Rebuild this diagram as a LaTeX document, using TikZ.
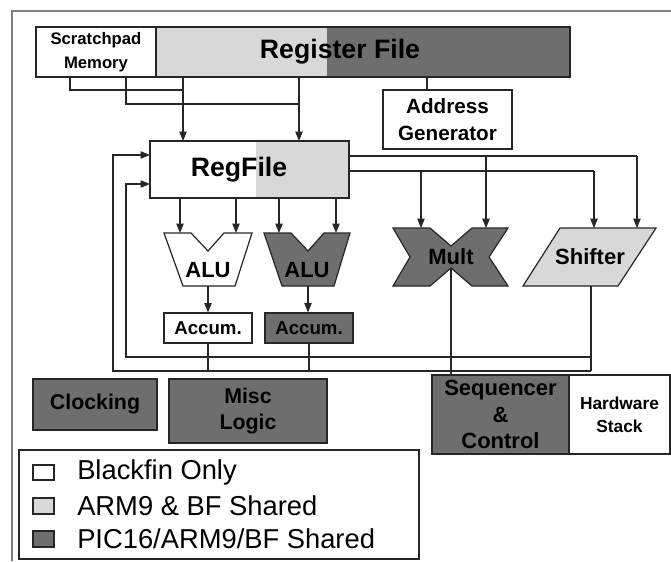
\documentclass[tikz,border=0pt]{standalone}
\usepackage{fontspec}
\setmainfont{Liberation Sans}
\usetikzlibrary{arrows.meta,fit,calc}
\definecolor{darkg}{HTML}{6E6E6E}
\definecolor{lightg}{HTML}{D8D8D8}
\definecolor{framec}{HTML}{808080}
\begin{document}
\begin{tikzpicture}[x=0.75pt,y=-0.75pt,
  box/.style={draw=black!85, line width=0.9pt, inner sep=0pt},
  wire/.style={draw=black!85, line width=0.8pt},
  arr/.style={wire, -{Triangle[length=7pt,width=5.5pt]}},
  shp/.style={draw=black!85, line width=0.9pt},
  bigtxt/.style={font=\bfseries\fontsize{20}{24}\selectfont},
  midtxt/.style={font=\bfseries\fontsize{16}{20}\selectfont, align=center},
  unittxt/.style={font=\bfseries\fontsize{16.5}{20}\selectfont},
  seqtxt/.style={font=\bfseries\fontsize{16.5}{20}\selectfont, align=center},
  smalltxt/.style={font=\bfseries\fontsize{12.5}{18}\selectfont, align=center},
  hwtxt/.style={font=\bfseries\fontsize{13}{17}\selectfont, align=center},
  acctxt/.style={font=\bfseries\fontsize{14}{16}\selectfont},
  agtxt/.style={font=\bfseries\fontsize{15.5}{20}\selectfont, align=center},
  legtxt/.style={font=\fontsize{20.5}{24}\selectfont, anchor=west, inner sep=0pt},
]
\useasboundingbox (0,0) rectangle (671,561);
% frame
\draw[framec, line width=1.5pt] (12,561) -- (12,11) -- (671,11);

% Register file
\fill[lightg] (156,27) rectangle (327,77);
\fill[darkg] (327,27) rectangle (570,77);
\node[box, fit={(36,27)(156,77)}] (scratch) {};
\node[smalltxt] (scratchtxt) at (scratch.center) {Scratchpad\\Memory};
\node[box, fit={(156,27)(570,77)}] (regf) {};
\node[bigtxt] (regftxt) at (340,52) {Register File};

% Address generator
\node[box, fit={(383,90)(512,149)}] (agen) {};
\node[agtxt] (agentxt) at (agen.center) {Address\\Generator};
\coordinate (agin) at (427,90);
\draw[wire] (agin |- regf.south) -- (agin);

% RegFile
\fill[lightg] (256,141) rectangle (349,198);
\node[box, fit={(150,141)(349,198)}] (rf) {};
\node[bigtxt] (rftxt) at (239,170) {RegFile};

% inputs to RegFile
\coordinate (in1) at (183,141);
\coordinate (in2) at (299,141);
\draw[arr] (in1 |- regf.south) -- (in1);
\draw[arr] (in2 |- regf.south) -- (in2);
\coordinate (s1) at (70,77);
\coordinate (s2) at (126,77);
\coordinate (j1) at (183,90);
\coordinate (j2) at (299,104);
\draw[wire] (s1) |- (j1);
\draw[wire] (s2) |- (j2);

% ALUs
\draw[shp, fill=white] (164,233) -- (191,233) -- (208,251) -- (224,233) -- (252,233) -- (235,286) -- (183,286) -- cycle;
\node[unittxt] (alu1) at (208,270) {ALU};
\draw[shp, fill=darkg] (264,233) -- (291,233) -- (308,251) -- (324,233) -- (350,233) -- (334,286) -- (282,286) -- cycle;
\node[unittxt] (alu2) at (307,270) {ALU};
\foreach \x in {180,236,279,336} {
  \draw[arr] (\x,198) -- (\x,233);
}

% Accumulators
\node[box, fit={(164,313)(252,343)}] (acc1) {};
\node[acctxt] (acc1txt) at (acc1.center) {Accum.};
\node[box, fit={(265,313)(353,343)}, fill=darkg] (acc2) {};
\node[acctxt] (acc2txt) at (acc2.center) {Accum.};
\coordinate (a1o) at (208,286);
\coordinate (a2o) at (308,286);
\draw[arr] (a1o) -- (a1o |- acc1.north);
\draw[arr] (a2o) -- (a2o |- acc2.north);

% Mult
\draw[shp, fill=darkg] (393,228) -- (430,228) -- (451,246) -- (472,228) -- (508,228) -- (489,257) -- (508,286) -- (472,286) -- (451,268) -- (430,286) -- (393,286) -- (410,257) -- cycle;
\node[unittxt] (mult) at (451,257) {Mult};

% Shifter
\draw[shp, fill=lightg] (560,228) -- (656,228) -- (618,286) -- (523,286) -- cycle;
\node[unittxt] (shift) at (590,257) {Shifter};

% RegFile outputs to Mult and Shifter
\coordinate (r1) at (349,156);
\coordinate (r2) at (349,171);
\draw[wire] (r1) -- (637,156);
\draw[wire] (r2) -- (594,171);
\draw[arr] (486,156) -- (486,228);
\draw[arr] (637,156) -- (637,228);
\draw[arr] (421,171) -- (421,228);
\draw[arr] (594,171) -- (594,228);

% Bottom boxes
\node[box, fit={(33,379)(157,430)}, fill=darkg] (clk) {};
\node[midtxt] (clktxt) at (clk.center) {Clocking};
\node[box, fit={(169,379)(327,443)}, fill=darkg] (misc) {};
\node[midtxt] (misctxt) at (misc.center) {Misc\\Logic};
\node[box, fit={(432,375)(569,454)}, fill=darkg] (seq) {};
\node[seqtxt] (seqtxt) at (seq.center) {Sequencer\\\&\\Control};
\node[box, fit={(569,375)(670,454)}] (hws) {};
\node[hwtxt] (hwstxt) at (hws.center) {Hardware\\Stack};

% feedback buses
\coordinate (b1) at (591,371);
\coordinate (b2) at (591,357);
\coordinate (so) at (591,286);
\coordinate (f1) at (150,155);
\coordinate (f2) at (150,184);
\coordinate (mo) at (451,268);
\draw[wire] (so) -- (b1);
\draw[arr] (b1) -- (113,371) |- (f1);
\draw[arr] (b2) -- (126,357) |- (f2);
\draw[wire] (acc1.south) -- (acc1.south |- b1);
\draw[wire] (acc2.south) -- (acc2.south |- b1);
\draw[wire] (mo) -- (mo |- seq.north);

% Legend
\node[box, fit={(19,450)(419,559)}] (legend) {};
\node[box, fit={(33,465)(54,480)}, fill=white] (k1) {};
\node[box, fit={(33,498)(54,514)}, fill=lightg] (k2) {};
\node[box, fit={(33,531)(54,547)}, fill=darkg] (k3) {};
\node[legtxt] (t1) at (77,472) {Blackfin Only};
\node[legtxt] (t2) at (77,506) {ARM9 \& BF Shared};
\node[legtxt] (t3) at (77,539) {PIC16/ARM9/BF Shared};
\end{tikzpicture}
\end{document}
